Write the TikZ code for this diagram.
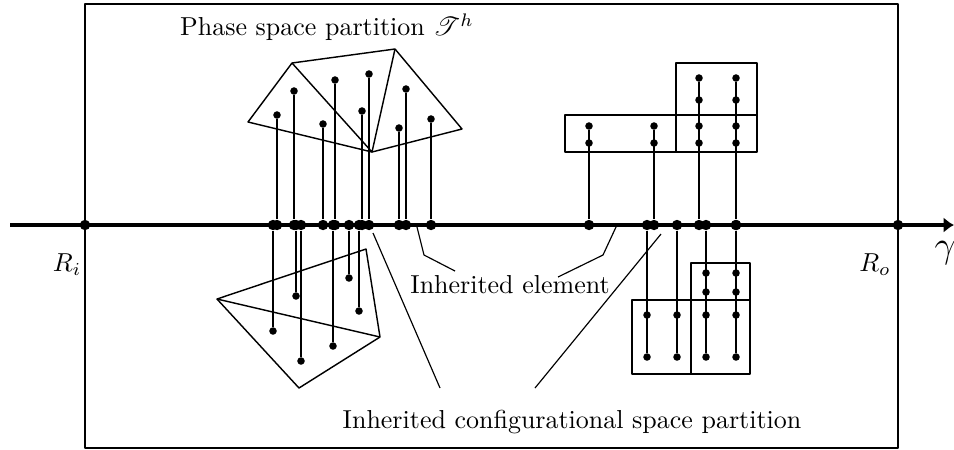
\documentclass[tikz,border=0pt]{standalone}
\usepackage{amsmath}
\usepackage{mathrsfs}
\usetikzlibrary{arrows.meta}
\tikzset{
    axdot/.style={circle, fill=black, inner sep=0pt, minimum size=4pt},
    ptdot/.style={circle, fill=black, inner sep=0pt, minimum size=2.9pt},
    cell/.style={draw=black, line width=0.55pt},
    proj/.style={draw=black, line width=0.55pt},
    leader/.style={draw=black, line width=0.45pt},
    lbl/.style={font=\normalsize, inner sep=1pt},
}
\begin{document}
\begin{tikzpicture}[x=0.385pt, y=-0.385pt, line join=round]
    \useasboundingbox (0,0) rectangle (954,449);
    % frame and axis
    \draw[line width=0.6pt] (85,4) rectangle (898,448);
    \coordinate (axs) at (10,225);
    \coordinate (axe) at (954,225);
    \draw[line width=1.2pt, -{Latex[length=4pt, width=6pt]}] (axs) -- (axe);
    \node[axdot] (ri) at (85,225) {};
    \node[axdot] (ro) at (898,225) {};
    \node[lbl] (ril) at (67,265) {$R_i$};
    \node[lbl] (rol) at (875,265) {$R_o$};
    \node[font=\Large] (gam) at (945,253) {$\gamma$};

    % phase space triangles
    \coordinate (pa) at (248,122);
    \coordinate (pb) at (292,63);
    \coordinate (pc) at (395,49);
    \coordinate (pd) at (462,129);
    \coordinate (pe) at (372,152);
    \draw[cell] (pa) -- (pb) -- (pc) -- (pd) -- (pe) -- cycle;
    \draw[cell] (pb) -- (pe) -- (pc);
    \coordinate (qa) at (217,299);
    \coordinate (qb) at (366,249);
    \coordinate (qc) at (380,337);
    \coordinate (qd) at (299,388);
    \draw[cell] (qa) -- (qb) -- (qc) -- (qd) -- cycle;
    \draw[cell] (qa) -- (qc);

    % points and their projections
    \foreach \n/\x/\y in {t1/277/115, t2/294/91, t3/323/124, t4/335/80,
                          t5/362/111, t6/369/74, t7/399/128, t8/406/89,
                          t9/431/119, b1/273/331, b2/296/296, b3/301/361,
                          b4/333/346, b5/349/278, b6/359/311} {
        \node[ptdot] (\n) at (\x,\y) {};
        \node[axdot] (a\n) at (\x,225) {};
        \draw[proj] (\n) -- (a\n);
    }

    % cartesian cells
    \draw[cell] (565,115) rectangle (676,152);
    \draw[cell] (676,63) rectangle (757,115);
    \draw[cell] (676,115) rectangle (757,152);
    \draw[cell] (632,300) rectangle (691,374);
    \draw[cell] (691,300) rectangle (750,374);
    \draw[cell] (691,263) rectangle (750,300);
    \foreach \x/\y in {589/126, 654/126, 699/78, 736/78} {
        \node[ptdot] (u\x) at (\x,\y) {};
        \node[axdot] (v\x) at (\x,225) {};
        \draw[proj] (u\x) -- (v\x);
    }
    \foreach \x/\y in {589/143, 654/143, 699/100, 699/126, 699/143,
                       736/100, 736/126, 736/143}
        \node[ptdot] (m\x-\y) at (\x,\y) {};
    \foreach \x/\y in {647/357, 677/357, 706/357, 736/357} {
        \node[ptdot] (l\x) at (\x,\y) {};
        \node[axdot] (w\x) at (\x,225) {};
        \draw[proj] (w\x) -- (l\x);
    }
    \foreach \x/\y in {647/315, 677/315, 706/273, 706/292, 706/315,
                       736/273, 736/292, 736/315}
        \node[ptdot] (n\x-\y) at (\x,\y) {};

    % labels
    \node[lbl] (phs) at (327,27) {Phase space partition $\mathscr{T}^h$};
    \node[lbl] (ie) at (510,285) {Inherited element};
    \node[lbl] (icsp) at (572,422) {Inherited configurational space partition};
    \coordinate (iea) at (417,227);
    \coordinate (ieb) at (424,255);
    \coordinate (iec) at (455,271);
    \coordinate (ied) at (616,227);
    \coordinate (iee) at (603,255);
    \coordinate (ief) at (558,277);
    \draw[leader] (iea) -- (ieb) -- (iec);
    \draw[leader] (ied) -- (iee) -- (ief);
    \coordinate (csa) at (373,233);
    \coordinate (csb) at (440,388);
    \coordinate (csc) at (661,234);
    \coordinate (csd) at (535,388);
    \draw[leader] (csa) -- (csb);
    \draw[leader] (csc) -- (csd);
\end{tikzpicture}
\end{document}
